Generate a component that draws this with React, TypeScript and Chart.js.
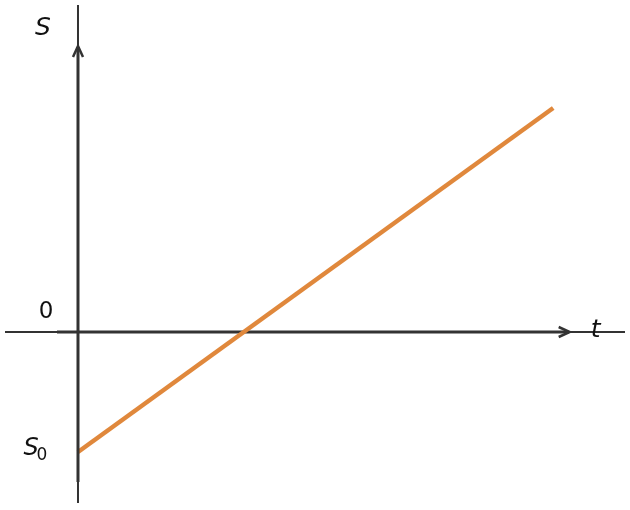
import React, { useEffect, useRef } from "react";
import { Chart, registerables } from "chart.js";

Chart.register(...registerables);

const tValues = [0, 2.88];
const sValues = [-1, 1.867];
const axisLabels = { s: "S", t: "t", zero: "0", s0: "S", s0sub: "0" };

const AXIS = "#333333";
const LINE = "#E0883C";
const FONT = "DejaVu Sans";
const ARROW_T = 2.98;

function chevron(ctx: CanvasRenderingContext2D, x: number, y: number, dir: "up" | "right") {
  ctx.save();
  ctx.strokeStyle = AXIS;
  ctx.lineWidth = 2.5;
  ctx.lineJoin = "miter";
  ctx.beginPath();
  if (dir === "up") {
    ctx.moveTo(x - 5, y + 11);
    ctx.lineTo(x, y);
    ctx.lineTo(x + 5, y + 11);
  } else {
    ctx.moveTo(x - 11, y - 5);
    ctx.lineTo(x, y);
    ctx.lineTo(x - 11, y + 5);
  }
  ctx.stroke();
  ctx.restore();
}

const axesPlugin = {
  id: "axesPlugin",
  beforeDatasetsDraw(chart: any) {
    const ctx: CanvasRenderingContext2D = chart.ctx;
    const xs = chart.scales.x;
    const ys = chart.scales.y;
    const x0 = xs.getPixelForValue(0);
    const y0 = ys.getPixelForValue(0);
    const { left, right } = chart.chartArea;
    ctx.save();
    ctx.strokeStyle = AXIS;
    ctx.lineWidth = 2;
    ctx.beginPath();
    ctx.moveTo(left + 5, y0);
    ctx.lineTo(right - 5, y0);
    ctx.stroke();
    ctx.lineWidth = 3;
    ctx.beginPath();
    ctx.moveTo(x0 - 21, y0);
    ctx.lineTo(xs.getPixelForValue(ARROW_T) - 1, y0);
    ctx.stroke();
    ctx.restore();
    chevron(ctx, xs.getPixelForValue(ARROW_T), y0, "right");
  },
  afterDatasetsDraw(chart: any) {
    const ctx: CanvasRenderingContext2D = chart.ctx;
    const xs = chart.scales.x;
    const ys = chart.scales.y;
    const x0 = xs.getPixelForValue(0);
    const y0 = ys.getPixelForValue(0);
    const { top, bottom } = chart.chartArea;
    ctx.save();
    ctx.strokeStyle = AXIS;
    ctx.lineWidth = 2;
    ctx.beginPath();
    ctx.moveTo(x0, top + 5);
    ctx.lineTo(x0, bottom - 7);
    ctx.stroke();
    ctx.lineWidth = 3;
    ctx.beginPath();
    ctx.moveTo(x0, top + 47);
    ctx.lineTo(x0, ys.getPixelForValue(-1.25));
    ctx.stroke();
    ctx.restore();
    chevron(ctx, x0, top + 46, "up");

    ctx.save();
    ctx.fillStyle = "#111111";
    ctx.textAlign = "center";
    ctx.textBaseline = "middle";
    ctx.font = `italic 25px "${FONT}"`;
    ctx.fillText(axisLabels.s, x0 - 35, top + 28);
    ctx.fillText(axisLabels.t, xs.getPixelForValue(ARROW_T) + 26, y0 - 2);
    ctx.font = `23px "${FONT}"`;
    ctx.fillText(axisLabels.zero, x0 - 32, y0 - 20);
    const yS0 = ys.getPixelForValue(sValues[0]);
    ctx.font = `italic 24px "${FONT}"`;
    ctx.fillText(axisLabels.s0, x0 - 47, yS0 - 3);
    ctx.font = `17px "${FONT}"`;
    ctx.fillText(axisLabels.s0sub, x0 - 36, yS0 + 4);
    ctx.restore();
  },
};

export default function App() {
  const ref = useRef<HTMLCanvasElement | null>(null);
  useEffect(() => {
    if (!ref.current) return;
    const chart = new Chart(ref.current, {
      type: "scatter",
      data: {
        datasets: [
          {
            data: tValues.map((t, i) => ({ x: t, y: sValues[i] })),
            showLine: true,
            borderColor: LINE,
            borderWidth: 4.5,
            pointRadius: 0,
            borderCapStyle: "butt",
          },
        ],
      },
      options: {
        animation: false,
        responsive: false,
        maintainAspectRatio: false,
        devicePixelRatio: 1,
        layout: { padding: 0 },
        plugins: { legend: { display: false }, tooltip: { enabled: false } },
        scales: {
          x: { type: "linear", display: false, min: -0.4727, max: 3.3455 },
          y: { type: "linear", display: false, min: -1.4833, max: 2.7667 },
        },
      },
      plugins: [axesPlugin],
    });
    return () => chart.destroy();
  }, []);
  return (
    <div style={{ position: "fixed", left: 0, top: 0, width: 630, height: 510, background: "#fff" }}>
      <canvas ref={ref} width={630} height={510} style={{ width: 630, height: 510 }} />
    </div>
  );
}
